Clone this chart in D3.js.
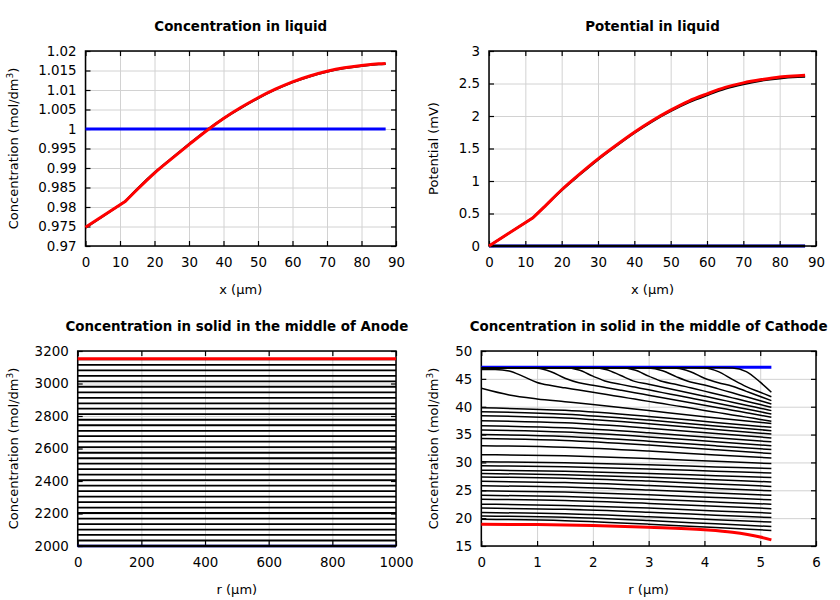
<!DOCTYPE html>
<html><head><meta charset="utf-8">
<script src="https://cdn.jsdelivr.net/npm/d3@7"></script>
<style>
body{margin:0;background:#fff;}
svg text{font-family:"DejaVu Sans",sans-serif;fill:#000;}
</style></head><body>
<svg id="chart" width="840" height="600"></svg>
<script>
// ---------- Panel 1: Concentration in liquid ----------
const liqX = [0, 5, 11.6, 15, 20, 25, 30, 35, 40, 45, 50, 55, 60, 65, 70, 75, 80, 85, 87];
const liqConcFinal = [0.9748, 0.9777, 0.9815, 0.9845, 0.9887, 0.9924, 0.9960, 0.9995, 1.0027, 1.0055, 1.0080, 1.0102, 1.0121, 1.0136, 1.0148, 1.0157, 1.0163, 1.0167, 1.0168];
const liqConcPrev  = [0.9747, 0.9776, 0.9815, 0.9846, 0.9888, 0.9925, 0.9961, 0.9996, 1.0027, 1.0054, 1.0079, 1.0101, 1.0120, 1.0135, 1.0147, 1.0156, 1.0162, 1.0166, 1.0167];
const liqKink = 2; // index of the kink at the separator boundary
const liqInitX = [0, 87];
const liqConcInit = [1, 1];
const liqConcYTicks = [0.97, 0.975, 0.98, 0.985, 0.99, 0.995, 1, 1.005, 1.01, 1.015, 1.02];
const liqXTicks = [0, 10, 20, 30, 40, 50, 60, 70, 80, 90];

// ---------- Panel 2: Potential in liquid ----------
const potX = [0, 5, 12, 15, 20, 25, 30, 35, 40, 45, 50, 55, 60, 65, 70, 75, 80, 85, 87];
const potFinal = [0, 0.18, 0.43, 0.59, 0.865, 1.11, 1.34, 1.55, 1.75, 1.93, 2.09, 2.23, 2.34, 2.44, 2.51, 2.56, 2.60, 2.62, 2.627];
const potPrev  = [0, 0.18, 0.43, 0.59, 0.86, 1.10, 1.33, 1.54, 1.74, 1.92, 2.075, 2.21, 2.32, 2.42, 2.49, 2.545, 2.58, 2.60, 2.605];
const potKink = 2;
const potInitX = [0, 87];
const potInit = [0, 0];
const potYTicks = [0, 0.5, 1, 1.5, 2, 2.5, 3];

// ---------- Panel 3: Anode solid ----------
const anodeR = [0, 1000];
const anodeLevels = [2000, 2034, 2068, 2101, 2135, 2169, 2203, 2236, 2270, 2304, 2338, 2372, 2405, 2439, 2473, 2507, 2540, 2574, 2608, 2642, 2676, 2709, 2743, 2777, 2811, 2845, 2878, 2912, 2946, 2980, 3013, 3047, 3081, 3115, 3149];
const anodeInit = 2000;
const anodeFinal = 3152;
const anodeYTicks = [2000, 2200, 2400, 2600, 2800, 3000, 3200];
const anodeXTicks = [0, 200, 400, 600, 800, 1000];

// ---------- Panel 4: Cathode solid ----------
const cathSigR = [0, 0.25, 0.5, 0.75, 1, 1.25, 1.5, 1.75, 2, 2.25, 2.5, 2.75, 3, 3.25, 3.5, 3.75, 4, 4.25, 4.5, 4.75, 5, 5.2];
const cathSig1 = [46.7, 46.68, 46.41, 45.44, 44.36, 43.8, 43.39, 42.99, 42.58, 42.18, 41.77, 41.37, 40.96, 40.56, 40.15, 39.75, 39.34, 38.94, 38.53, 38.13, 37.72, 37.4];
const cathSig2 = [47, 47, 47, 47, 46.92, 46.29, 45.12, 44.31, 43.87, 43.42, 42.97, 42.52, 42.07, 41.62, 41.17, 40.72, 40.27, 39.82, 39.37, 38.92, 38.47, 38.1];
const cathSig3 = [47, 47, 47, 47, 47, 47, 47, 46.58, 45.5, 44.51, 44.01, 43.52, 43.03, 42.53, 42.04, 41.55, 41.06, 40.56, 40.07, 39.58, 39.09, 38.7];
const cathSig4 = [47, 47, 47, 47, 47, 47, 47, 47, 47, 46.65, 45.6, 44.55, 44.05, 43.51, 42.97, 42.43, 41.89, 41.35, 40.81, 40.27, 39.73, 39.3];
const cathSig5 = [47, 47, 47, 47, 47, 47, 47, 47, 47, 47, 47, 46.58, 45.5, 44.51, 44.0, 43.4, 42.8, 42.19, 41.59, 40.99, 40.38, 39.9];
const cathSig6 = [47, 47, 47, 47, 47, 47, 47, 47, 47, 47, 47, 47, 46.96, 46.47, 45.36, 44.43, 43.91, 43.2, 42.49, 41.78, 41.07, 40.5];
const cathSig7 = [47, 47, 47, 47, 47, 47, 47, 47, 47, 47, 47, 47, 47, 47, 46.92, 46.29, 45.12, 44.31, 43.68, 42.76, 41.84, 41.1];
const cathSig8 = [47, 47, 47, 47, 47, 47, 47, 47, 47, 47, 47, 47, 47, 47, 47, 47, 46.95, 46.3, 44.9, 43.6, 42.6, 41.8];
const cathSig9 = [47, 47, 47, 47, 47, 47, 47, 47, 47, 47, 47, 47, 47, 47, 47, 47, 47, 47, 46.95, 46.3, 44.4, 42.6];
const cathL1R = [0, 0.5, 1, 1.5, 2, 3, 4, 5.2];
const cathL1 = [43.3, 42.1, 41.4, 40.9, 40.4, 39.3, 38.2, 37.0];
const cathSmoothR = [0, 1.5, 3, 4.2, 5.2];
const cathSmooth = [
  [39.8, 39.35, 38.26, 37.18, 36.3],
  [39.1, 38.66, 37.6, 36.55, 35.7],
  [38.4, 37.97, 36.95, 35.93, 35.1],
  [37.5, 37.1, 36.14, 35.18, 34.4],
  [36.6, 36.22, 35.32, 34.43, 33.7],
  [35.8, 35.44, 34.57, 33.7, 33.0],
  [35.0, 34.65, 33.81, 32.98, 32.3],
  [34.3, 33.95, 33.11, 32.28, 31.6],
  [33.0, 32.71, 32.03, 31.35, 30.8],
  [31.4, 31.19, 30.7, 30.2, 29.8],
  [30.1, 29.94, 29.57, 29.2, 28.9],
  [29.4, 29.23, 28.83, 28.43, 28.1],
  [28.6, 28.43, 28.03, 27.63, 27.3],
  [28.0, 27.8, 27.34, 26.88, 26.5],
  [27.4, 27.18, 26.65, 26.13, 25.7],
  [26.6, 26.38, 25.85, 25.33, 24.9],
  [25.8, 25.58, 25.05, 24.53, 24.1],
  [24.9, 24.69, 24.2, 23.7, 23.3],
  [24.1, 23.89, 23.4, 22.9, 22.5],
  [23.4, 23.18, 22.65, 22.13, 21.7],
  [22.5, 22.29, 21.8, 21.3, 20.9],
  [21.8, 21.58, 21.05, 20.53, 20.1],
  [21.0, 20.78, 20.25, 19.73, 19.3],
  [20.4, 20.15, 19.56, 18.98, 18.5],
  [19.8, 19.54, 18.92, 18.3, 17.8]
];
const cathFinalR = [0, 1, 2, 3, 4, 4.5, 5, 5.2];
const cathFinal = [18.9, 18.85, 18.67, 18.35, 17.9, 17.45, 16.6, 16.1];
const cathInitR = [0, 5.2];
const cathInit = [47.1, 47.1];
const cathYTicks = [15, 20, 25, 30, 35, 40, 45, 50];
const cathXTicks = [0, 1, 2, 3, 4, 5, 6];

// ---------- drawing ----------
const svg = d3.select("#chart");
const zip = (xs, ys) => xs.map((v, i) => [v, ys[i]]);
const fmt = v => String(+v.toFixed(4));
const TICK_FS = 13.4, TITLE_FS = 13.4, LABEL_FS = 13;

function drawPanel(p) {
  const g = svg.append("g");
  const x = d3.scaleLinear().domain(p.xDomain).range([p.left, p.right]);
  const y = d3.scaleLinear().domain(p.yDomain).range([p.bottom, p.top]);
  const w = p.right - p.left, h = p.bottom - p.top;

  // grid
  g.append("g").attr("transform", `translate(0,${p.bottom})`)
    .call(d3.axisBottom(x).tickValues(p.xTicks).tickSize(-h).tickFormat(""))
    .call(s => { s.select(".domain").remove(); s.selectAll("line").attr("stroke", "#d2d2d2"); });
  g.append("g").attr("transform", `translate(${p.left},0)`)
    .call(d3.axisLeft(y).tickValues(p.yTicks).tickSize(-w).tickFormat(""))
    .call(s => { s.select(".domain").remove(); s.selectAll("line").attr("stroke", "#d2d2d2"); });

  // frame
  g.append("rect").attr("x", p.left).attr("y", p.top).attr("width", w).attr("height", h)
    .attr("fill", "none").attr("stroke", "#000").attr("stroke-width", 1.5);

  // ticks (inward, mirrored)
  const tk = s => { s.select(".domain").remove(); s.selectAll("line").attr("stroke", "#000").attr("stroke-width", 1.2);
                    s.selectAll("text").attr("font-size", TICK_FS).attr("font-family", "DejaVu Sans").attr("fill", "#000"); };
  g.append("g").attr("transform", `translate(0,${p.bottom})`)
    .call(d3.axisBottom(x).tickValues(p.xTicks).tickSize(-5).tickPadding(11).tickFormat(fmt)).call(tk);
  g.append("g").attr("transform", `translate(0,${p.top})`)
    .call(d3.axisTop(x).tickValues(p.xTicks).tickSize(-5).tickFormat("")).call(tk);
  g.append("g").attr("transform", `translate(${p.left},0)`)
    .call(d3.axisLeft(y).tickValues(p.yTicks).tickSize(-5).tickPadding(9).tickFormat(fmt)).call(tk);
  g.append("g").attr("transform", `translate(${p.right},0)`)
    .call(d3.axisRight(y).tickValues(p.yTicks).tickSize(-5).tickFormat("")).call(tk);

  // series
  p.series.forEach(s => {
    const lineLin = d3.line().x(d => x(d[0])).y(d => y(d[1])).curve(d3.curveLinear);
    const lineSm = d3.line().x(d => x(d[0])).y(d => y(d[1])).curve(d3.curveMonotoneX);
    let d;
    if (s.linear) d = lineLin(s.pts);
    else if (s.kink != null) {
      // straight segment up to the kink, smooth afterwards
      d = lineLin(s.pts.slice(0, s.kink + 1)) + lineSm(s.pts.slice(s.kink)).replace(/^M/, "L");
    } else d = lineSm(s.pts);
    g.append("path").attr("d", d).attr("fill", "none")
      .attr("stroke", s.color).attr("stroke-width", s.width).attr("stroke-linejoin", "round");
  });

  // title
  const cx = (p.left + p.right) / 2, cy = (p.top + p.bottom) / 2;
  g.append("text").attr("x", cx).attr("y", p.top - 20.5).attr("text-anchor", "middle")
    .attr("font-size", TITLE_FS).attr("font-weight", "bold").text(p.title);
  // x label
  g.append("text").attr("x", cx).attr("y", p.bottom + 47.5).attr("text-anchor", "middle")
    .attr("font-size", LABEL_FS).text(p.xLabel);
  // y label
  const yl = g.append("text").attr("transform", `translate(${p.ylx + 4.5},${cy}) rotate(-90)`)
    .attr("text-anchor", "middle").attr("font-size", LABEL_FS);
  if (p.yLabelSup) {
    yl.append("tspan").text(p.yLabel);
    yl.append("tspan").attr("font-size", 9).attr("dy", -5).text(p.yLabelSup);
    yl.append("tspan").attr("dy", 5).text(")");
  } else {
    yl.text(p.yLabel);
  }
}

// Panel 1
drawPanel({
  left: 85.5, right: 396, top: 51, bottom: 246, ylx: 13,
  xDomain: [0, 90], yDomain: [0.97, 1.02], xTicks: liqXTicks, yTicks: liqConcYTicks,
  title: "Concentration in liquid", xLabel: "x (µm)",
  yLabel: "Concentration (mol/dm", yLabelSup: "3",
  series: [
    { pts: zip(liqInitX, liqConcInit), color: "#0000ff", width: 3, linear: true },
    { pts: zip(liqX, liqConcPrev), color: "#000", width: 2.2, kink: liqKink },
    { pts: zip(liqX, liqConcFinal), color: "#ff0000", width: 3, kink: liqKink }
  ]
});

// Panel 2
drawPanel({
  left: 489, right: 816, top: 51, bottom: 246, ylx: 433,
  xDomain: [0, 90], yDomain: [0, 3], xTicks: liqXTicks, yTicks: potYTicks,
  title: "Potential in liquid", xLabel: "x (µm)", yLabel: "Potential (mV)",
  series: [
    { pts: zip(potInitX, potInit), color: "#0000ff", width: 3, linear: true },
    { pts: zip(potInitX, potInit), color: "#000", width: 2.4, linear: true },
    { pts: zip(potX, potPrev), color: "#000", width: 2.2, kink: potKink },
    { pts: zip(potX, potFinal), color: "#ff0000", width: 3, kink: potKink }
  ]
});

// Panel 3
const anodeSeries = [{ pts: zip(anodeR, [anodeInit, anodeInit]), color: "#0000ff", width: 2.6, linear: true }];
anodeLevels.forEach((v, i) => anodeSeries.push({ pts: zip(anodeR, [v, v]), color: "#000", width: i === 0 ? 2.4 : 1.8, linear: true }));
anodeSeries.push({ pts: zip(anodeR, [anodeFinal, anodeFinal]), color: "#ff0000", width: 3, linear: true });
drawPanel({
  left: 77.7, right: 396, top: 351, bottom: 546, ylx: 13,
  xDomain: [0, 1000], yDomain: [2000, 3200], xTicks: anodeXTicks, yTicks: anodeYTicks,
  title: "Concentration in solid in the middle of Anode", xLabel: "r (µm)",
  yLabel: "Concentration (mol/dm", yLabelSup: "3",
  series: anodeSeries
});

// Panel 4
const cathSeries = [{ pts: zip(cathInitR, cathInit), color: "#0000ff", width: 3, linear: true }];
[cathSig1, cathSig2, cathSig3, cathSig4, cathSig5, cathSig6, cathSig7, cathSig8, cathSig9]
  .forEach(c => cathSeries.push({ pts: zip(cathSigR, c), color: "#000", width: 1.5 }));
cathSeries.push({ pts: zip(cathL1R, cathL1), color: "#000", width: 1.5 });
cathSmooth.forEach(c => cathSeries.push({ pts: zip(cathSmoothR, c), color: "#000", width: 1.5 }));
cathSeries.push({ pts: zip(cathFinalR, cathFinal), color: "#ff0000", width: 3 });
drawPanel({
  left: 481.3, right: 816, top: 351, bottom: 546, ylx: 433,
  xDomain: [0, 6], yDomain: [15, 50], xTicks: cathXTicks, yTicks: cathYTicks,
  title: "Concentration in solid in the middle of Cathode", xLabel: "r (µm)",
  yLabel: "Concentration (mol/dm", yLabelSup: "3",
  series: cathSeries
});
</script>
</body></html>
